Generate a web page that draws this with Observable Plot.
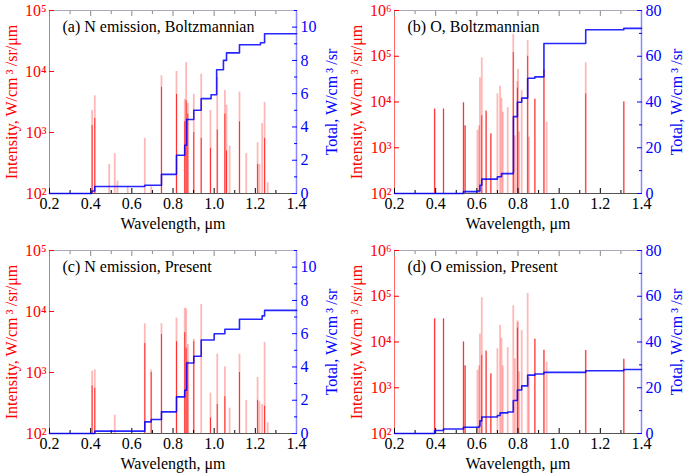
<!DOCTYPE html>
<html>
<head>
<meta charset="utf-8">
<script src="https://cdn.jsdelivr.net/npm/d3@7"></script>
<script src="https://cdn.jsdelivr.net/npm/@observablehq/plot@0.6"></script>
<style>
  body { margin: 0; background: #fff; }
  #fig { position: relative; width: 685px; height: 474px; }
  .panel { position: absolute; width: 342px; height: 237px; }
  .panel svg { position: absolute; left: 0; top: 0; }
</style>
</head>
<body>
<div id="fig"></div>
<script>
// wavelengths (µm) of the N lines, shared by panels (a) and (c)
const nLineWl = [0.407, 0.42, 0.49, 0.517, 0.53, 0.58, 0.663, 0.694, 0.744, 0.817, 0.857, 0.864, 0.872, 0.901,
  0.937, 0.982, 1.015, 1.052, 1.06, 1.075, 1.123, 1.156, 1.211, 1.22, 1.233, 1.245, 1.26];
// (a) N emission, Boltzmannian : peak and bright core of each line
const nBoltzPeak = [2300, 4000, 300, 450, 160, 130, 800, 130, 8500, 10000, 3500, 14000, 3000, 4200,
  9000, 2300, 8000, 4900, 2800, 600, 4600, 450, 680, 300, 1400, 3100, 150];
const nBoltzCore = [1300, 1700, 0, 0, 0, 0, 0, 0, 5500, 4200, 1500, 3300, 2000, 1000,
  800, 550, 1100, 2000, 500, 0, 1500, 0, 300, 0, 0, 800, 0];
// (c) N emission, Present
const nPresPeak = [1050, 1100, 0, 200, 0, 0, 6300, 1100, 6300, 7800, 11300, 11000, 2900, 3500,
  13000, 460, 2000, 1240, 0, 260, 2000, 350, 830, 330, 300, 3100, 150];
const nPresCore = [600, 550, 0, 0, 0, 0, 3000, 1000, 4200, 3200, 4500, 2500, 1500, 3200,
  0, 180, 300, 400, 0, 0, 1000, 0, 350, 0, 0, 280, 0];

// wavelengths (µm) of the O lines, shared by panels (b) and (d)
const oLineWl = [0.395, 0.438, 0.535, 0.543, 0.603, 0.611, 0.615, 0.624, 0.645, 0.668, 0.70, 0.713, 0.72, 0.726,
  0.75, 0.777, 0.785, 0.797, 0.80, 0.805, 0.818, 0.847, 0.853, 0.882, 0.926, 0.939, 1.129, 1.314];
// (b) O, Boltzmannian
const oBoltzPeak = [7000, 7000, 9600, 3000, 2400, 3000, 34000, 92000, 6300, 2000, 15000, 22000, 12000, 6000,
  7500, 300000, 1800, 28000, 52000, 2200, 18000, 220000, 1700, 11500, 50000, 3600, 72000, 10000];
const oBoltzCore = [7000, 7000, 9600, 3000, 0, 0, 0, 5000, 6300, 2000, 0, 0, 0, 0,
  0, 120000, 0, 20000, 0, 0, 0, 100000, 0, 11500, 50000, 0, 15000, 10000];
// (d) O emission, Present
const oPresPeak = [32000, 32000, 10000, 3000, 2400, 3000, 15000, 93000, 6300, 2000, 7100, 23000, 12000, 3000,
  7500, 62000, 4300, 29000, 27000, 2200, 18000, 115000, 1700, 11500, 6600, 3600, 6500, 4200];
const oPresCore = [32000, 32000, 10000, 3000, 0, 0, 0, 5100, 6300, 2000, 0, 0, 0, 0,
  0, 0, 0, 20000, 0, 0, 0, 0, 0, 11500, 6600, 0, 6500, 4200];

// cumulative totals (W/cm^3/sr), step curves
const aStepWl = [0.2, 0.405, 0.42, 0.663, 0.744, 0.817, 0.857, 0.866, 0.901, 0.937, 0.985, 1.012, 1.045, 1.06, 1.123, 1.225, 1.245, 1.4];
const aTotal  = [0, 0.15, 0.42, 0.5, 1.15, 2.3, 2.9, 4.45, 5.0, 5.7, 5.94, 7.44, 8.0, 8.45, 8.94, 9.06, 9.6, 9.6];
const bStepWl = [0.2, 0.535, 0.603, 0.615, 0.624, 0.70, 0.72, 0.777, 0.778, 0.797, 0.818, 0.847, 0.882, 0.926, 1.129, 1.314, 1.4];
const bTotal  = [0, 0.8, 1.1, 3.6, 6.3, 7.3, 8.7, 9.4, 33.6, 39.9, 41.7, 50.4, 51.0, 65.6, 71.6, 72.2, 72.2];
const cStepWl = [0.2, 0.42, 0.663, 0.694, 0.744, 0.817, 0.857, 0.866, 0.901, 0.937, 1.0, 1.052, 1.123, 1.233, 1.245, 1.4];
const cTotal  = [0, 0.14, 0.7, 0.84, 1.3, 2.2, 2.6, 4.24, 4.64, 5.62, 6.0, 6.27, 6.87, 7.07, 7.4, 7.4];
const dStepWl = [0.2, 0.395, 0.438, 0.535, 0.611, 0.615, 0.624, 0.70, 0.713, 0.75, 0.777, 0.797, 0.818, 0.847, 0.882, 0.926, 1.129, 1.314, 1.4];
const dTotal  = [0, 1.3, 2.0, 2.7, 3.2, 5.5, 7.2, 7.9, 9.0, 9.4, 14.4, 19.0, 20.8, 25.5, 26.0, 26.7, 27.4, 28.0, 28.0];

const xTicks = [0.2, 0.4, 0.6, 0.8, 1.0, 1.2, 1.4];
const xMinor = [0.3, 0.5, 0.7, 0.9, 1.1, 1.3];
const nTotTicks = [0, 2, 4, 6, 8, 10];
const nTotMinor = [1, 3, 5, 7, 9, 11];
const oTotTicks = [0, 20, 40, 60, 80];
const oTotMinor = [10, 30, 50, 70];

const sup = {"2": "²", "3": "³", "4": "⁴", "5": "⁵", "6": "⁶"};
const RED = "#ff0000", BLUE = "#0000ff";
const font = '"Liberation Serif", "Times New Roman", serif';

function panel({left, top, title, wl, peak, core, yMax, stepWl, total, tMax, tTicks, tMinor}) {
  const lines = wl.map((w, i) => ({w, peak: peak[i], core: core[i]}));
  const steps = stepWl.map((w, i) => ({w, t: total[i]}));
  const yTicks = Object.keys(sup).map(Number).filter(e => 10 ** e <= yMax).map(e => 10 ** e);
  const base = {
    width: 342, height: 237,
    marginLeft: 49, marginRight: 46, marginTop: 10, marginBottom: 44,
    style: {fontFamily: font, fontSize: "16px", background: "transparent", overflow: "visible"},
    x: {domain: [0.2, 1.4]}
  };

  const spec = Plot.plot({
    ...base,
    y: {type: "log", domain: [100, yMax]},
    marks: [
      Plot.ruleX(lines.filter(d => d.peak > 100), {x: "w", y1: 100, y2: "peak", stroke: RED, strokeOpacity: 0.28, strokeWidth: 1.8}),
      Plot.ruleX(lines.filter(d => d.core > 100), {x: "w", y1: 100, y2: "core", stroke: RED, strokeOpacity: 0.75, strokeWidth: 1}),
      Plot.ruleY([100], {stroke: "#555"}),
      Plot.ruleY([yMax], {stroke: "#aab"}),
      Plot.ruleX([0.2], {stroke: RED, strokeOpacity: 0.6}),
      Plot.axisX({ticks: xTicks, tickFormat: ".1f", tickSize: -5, tickPadding: 9, color: "black",
        label: "Wavelength, μm", labelAnchor: "center", labelArrow: "none", labelOffset: 35}),
      Plot.axisX({ticks: xMinor, tickSize: -3, fill: "none", label: null}),
      Plot.axisX({anchor: "top", ticks: xTicks, tickSize: -5, fill: "none", label: null, stroke: "#888"}),
      Plot.axisX({anchor: "top", ticks: xMinor, tickSize: -3, fill: "none", label: null, stroke: "#888"}),
      Plot.axisY({ticks: yTicks, tickFormat: d => "10" + sup[Math.round(Math.log10(d))], tickSize: -5, tickPadding: 8,
        color: RED, label: "Intensity, W/cm\u2009³\u2009/sr/μm", labelAnchor: "center", labelArrow: "none", labelOffset: 44}),
      Plot.text([title], {frameAnchor: "top-left", dx: 13, dy: 10, lineAnchor: "top", textAnchor: "start", fill: "black"})
    ]
  });

  const tot = Plot.plot({
    ...base,
    x: {domain: [0.2, 1.4], axis: null},
    y: {domain: [0, tMax]},
    marks: [
      Plot.ruleX([1.4], {stroke: "#8a8aff", strokeWidth: 1.5}),
      Plot.line(steps, {x: "w", y: "t", curve: "step-after", stroke: BLUE, strokeOpacity: 0.85, strokeWidth: 1.6}),
      Plot.axisY({anchor: "right", ticks: tTicks, tickSize: -5, tickPadding: 9, color: BLUE,
        label: "Total, W/cm\u2009³\u2009/sr", labelAnchor: "center", labelArrow: "none", labelOffset: 40}),
      Plot.axisY({anchor: "right", ticks: tMinor, tickSize: -3, fill: "none", stroke: BLUE, label: null})
    ]
  });

  const div = d3.select("#fig").append("div").attr("class", "panel")
    .style("left", left + "px").style("top", top + "px");
  div.append(() => spec);
  div.append(() => tot);
}

panel({left: 0, top: 0, title: "(a) N emission, Boltzmannian", wl: nLineWl, peak: nBoltzPeak, core: nBoltzCore,
  yMax: 1e5, stepWl: aStepWl, total: aTotal, tMax: 11, tTicks: nTotTicks, tMinor: nTotMinor});
panel({left: 345, top: 0, title: "(b) O, Boltzmannian", wl: oLineWl, peak: oBoltzPeak, core: oBoltzCore,
  yMax: 1e6, stepWl: bStepWl, total: bTotal, tMax: 80, tTicks: oTotTicks, tMinor: oTotMinor});
panel({left: 0, top: 240, title: "(c) N emission, Present", wl: nLineWl, peak: nPresPeak, core: nPresCore,
  yMax: 1e5, stepWl: cStepWl, total: cTotal, tMax: 11, tTicks: nTotTicks, tMinor: nTotMinor});
panel({left: 345, top: 240, title: "(d) O emission, Present", wl: oLineWl, peak: oPresPeak, core: oPresCore,
  yMax: 1e6, stepWl: dStepWl, total: dTotal, tMax: 80, tTicks: oTotTicks, tMinor: oTotMinor});
</script>
</body>
</html>
